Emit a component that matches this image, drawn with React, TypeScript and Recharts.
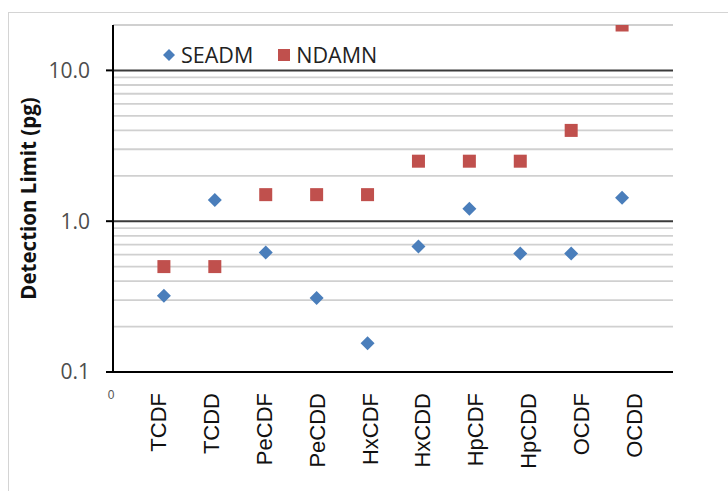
import React from 'react';
import { ScatterChart, Scatter, XAxis, YAxis, CartesianGrid, ReferenceLine } from 'recharts';

// compounds on the x axis (positions 1..10)
const compounds = ['TCDF', 'TCDD', 'PeCDF', 'PeCDD', 'HxCDF', 'HxCDD', 'HpCDF', 'HpCDD', 'OCDF', 'OCDD'];
// detection limits in pg
const seadm = [0.32, 1.38, 0.62, 0.31, 0.155, 0.68, 1.21, 0.61, 0.61, 1.43];
const ndamn = [0.5, 0.5, 1.5, 1.5, 1.5, 2.5, 2.5, 2.5, 4.0, 20];
const xTicks = [0, 1, 2, 3, 4, 5, 6, 7, 8, 9, 10];
const yTicks = [0.1, 1, 10];
const minorLines = [0.2, 0.3, 0.4, 0.5, 0.6, 0.7, 0.8, 0.9, 2, 3, 4, 5, 6, 7, 8, 9, 20];
const majorLines = [1, 10];

const BLUE = '#4a7ebb';
const RED = '#c0504d';

const seadmData = compounds.map((name, i) => ({ x: i + 1, y: seadm[i], name }));
const ndamnData = compounds.map((name, i) => ({ x: i + 1, y: ndamn[i], name }));

const Diamond = (props: any) => {
  const { cx, cy } = props;
  const r = 7;
  return <polygon points={`${cx},${cy - r} ${cx + r},${cy} ${cx},${cy + r} ${cx - r},${cy}`} fill={BLUE} />;
};

const Square = (props: any) => {
  const { cx, cy } = props;
  const s = 13;
  return <rect x={cx - s / 2} y={cy - s / 2} width={s} height={s} fill={RED} />;
};

const XTick = (props: any) => {
  const { x, y, payload } = props;
  const v = payload.value;
  if (v === 0) {
    return (
      <text x={x - 2} y={y + 19} fontSize={12} fill="#555" fontFamily="Liberation Sans" textAnchor="middle">
        0
      </text>
    );
  }
  const label = compounds[v - 1];
  // labels drift slightly right of the markers in the original
  const bx = x - 6 + 2 * (v - 1) + 8;
  const by = y + 13;
  return (
    <text
      x={bx}
      y={by}
      transform={`rotate(-90 ${bx} ${by})`}
      textAnchor="end"
      fontSize={22}
      fontFamily="Liberation Sans"
      fill="#111"
    >
      {label}
    </text>
  );
};

const YLabel = (props: any) => {
  const { viewBox } = props;
  const cx = viewBox.x + 28;
  const cy = viewBox.y + viewBox.height / 2;
  return (
    <text
      x={cx}
      y={cy}
      transform={`rotate(-90 ${cx} ${cy})`}
      textAnchor="middle"
      dominantBaseline="central"
      fontSize={20.5}
      fontWeight="bold"
      fontFamily="Open Sans"
      fill="#111"
    >
      Detection Limit (pg)
    </text>
  );
};

const legendItems = [
  { name: 'SEADM', color: BLUE, shape: 'diamond' },
  { name: 'NDAMN', color: RED, shape: 'square' },
];

export default function App() {
  return (
    <div style={{ position: 'absolute', left: 0, top: 0, width: 728, height: 491, overflow: 'hidden', background: '#fff' }}>
      <div style={{ position: 'absolute', left: 8, top: 12, width: 900, height: 700, border: '1px solid #d4d4d4' }} />
      <div style={{ position: 'absolute', left: 0, top: 0 }}>
        <ScatterChart width={728} height={491} margin={{ top: 25, right: 55, bottom: 0, left: 0 }}>
          <CartesianGrid vertical={false} horizontalValues={minorLines} stroke="#d0d0d0" strokeWidth={1.8} />
          {majorLines.map((v) => (
            <ReferenceLine key={v} y={v} stroke="#3a3a3a" strokeWidth={2} />
          ))}
          <XAxis
            type="number"
            dataKey="x"
            domain={[0, 11]}
            ticks={xTicks}
            interval={0}
            height={119}
            axisLine={{ stroke: '#000', strokeWidth: 2 }}
            tickLine={false}
            tick={XTick}
          />
          <YAxis
            type="number"
            dataKey="y"
            scale="log"
            domain={[0.1, 20]}
            allowDataOverflow
            ticks={yTicks}
            interval={0}
            width={113}
            tickFormatter={(v: number) => v.toFixed(1)}
            axisLine={{ stroke: '#000', strokeWidth: 2 }}
            tickLine={{ stroke: '#000', strokeWidth: 2 }}
            tickSize={7}
            tickMargin={16}
            tick={{ fill: '#4d4d4d', fontSize: 21, fontFamily: 'Open Sans' }}
            label={<YLabel />}
          />
          <Scatter name="SEADM" data={seadmData} shape={Diamond} isAnimationActive={false} />
          <Scatter name="NDAMN" data={ndamnData} shape={Square} isAnimationActive={false} />
        </ScatterChart>
      </div>
      <div
        style={{
          position: 'absolute',
          left: 162,
          top: 43,
          display: 'flex',
          alignItems: 'center',
          fontFamily: 'Open Sans',
          fontSize: 21.5,
          lineHeight: '24px',
          color: '#222',
        }}
      >
        {legendItems.map((it, i) => (
          <div key={it.name} style={{ display: 'flex', alignItems: 'center', marginRight: i === 0 ? 24 : 0 }}>
            <svg width={14} height={14} style={{ marginRight: 5 }}>
              {it.shape === 'diamond' ? (
                <polygon points="7,1 13,7 7,13 1,7" fill={it.color} />
              ) : (
                <rect x={1} y={1} width={12} height={12} fill={it.color} />
              )}
            </svg>
            <span>{it.name}</span>
          </div>
        ))}
      </div>
    </div>
  );
}
